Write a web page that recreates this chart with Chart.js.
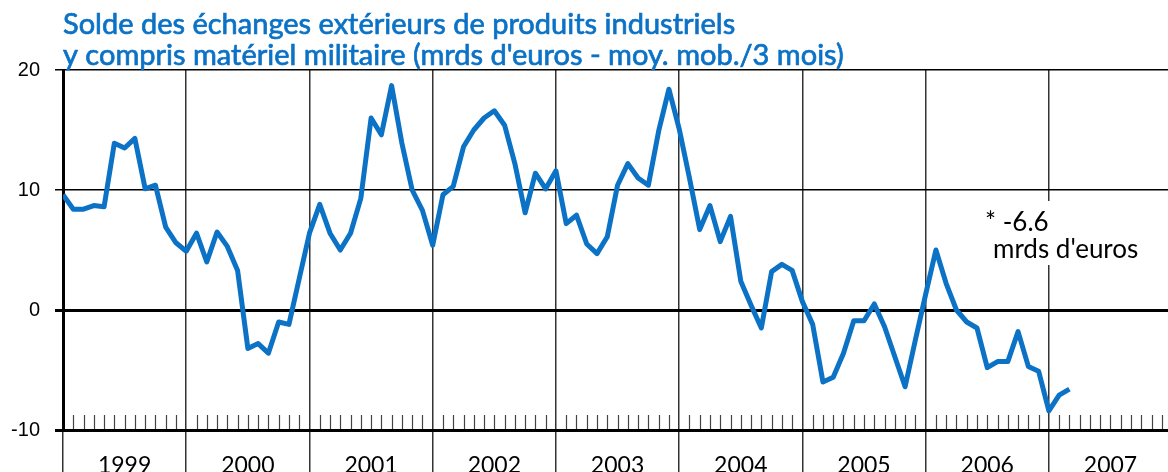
<!DOCTYPE html>
<html>
<head>
<meta charset="utf-8">
<script src="https://cdn.jsdelivr.net/npm/chart.js@4.4.1/dist/chart.umd.min.js"></script>
<style>
  html, body { margin: 0; background: #fff; }
  #wrap { width: 1168px; height: 472px; }
</style>
</head>
<body>
<div id="wrap"><canvas id="balanceChart"></canvas></div>
<script>
// monthly values, 3-month moving average, bn euros
const years = ['1999', '2000', '2001', '2002', '2003', '2004', '2005', '2006', '2007'];
const s1999 = [9.6, 8.4, 8.4, 8.7, 8.6, 13.9, 13.5, 14.3, 10.1, 10.4, 6.9, 5.6];
const s2000 = [4.9, 6.4, 4.0, 6.5, 5.3, 3.3, -3.2, -2.8, -3.6, -1.0, -1.2, 2.6];
const s2001 = [6.4, 8.8, 6.4, 5.0, 6.4, 9.3, 16.0, 14.6, 18.7, 13.9, 10.0, 8.3];
const s2002 = [5.4, 9.6, 10.3, 13.6, 15.0, 16.0, 16.6, 15.4, 12.2, 8.1, 11.4, 10.1];
const s2003 = [11.6, 7.2, 7.9, 5.5, 4.7, 6.1, 10.4, 12.2, 11.0, 10.4, 14.9, 18.4];
const s2004 = [15.1, 11.0, 6.7, 8.7, 5.7, 7.8, 2.4, 0.4, -1.5, 3.2, 3.8, 3.3];
const s2005 = [0.7, -1.2, -6.0, -5.6, -3.6, -0.9, -0.9, 0.5, -1.4, -3.9, -6.4, -2.5];
const s2006 = [1.3, 5.0, 2.2, 0.0, -1.0, -1.5, -4.8, -4.3, -4.3, -1.8, -4.7, -5.1];
const s2007 = [-8.4, -7.1, -6.6];
const balance = [].concat(s1999, s2000, s2001, s2002, s2003, s2004, s2005, s2006, s2007);

const yTicks = [-10, 0, 10, 20];
const titleLines = [
    'Solde des échanges extérieurs de produits industriels',
    "y compris matériel militaire (mrds d'euros - moy. mob./3 mois)"
];
const noteLines = ['* -6.6', "mrds d'euros"];

const blue = '#0b72c6';

const extras = {
    id: 'extras',
    beforeDatasetsDraw(chart) {
        const ctx = chart.ctx;
        const x = chart.scales.x;
        const area = chart.chartArea;
        // small month ticks along the bottom
        ctx.save();
        ctx.strokeStyle = '#444';
        ctx.lineWidth = 1.2;
        for (let m = 1; m < years.length * 12; m++) {
            if (m % 12 === 0) continue;
            const px = Math.round(x.getPixelForValue(m)) + 0.5;
            if (px > area.right) break;
            ctx.beginPath();
            ctx.moveTo(px, area.bottom - 15);
            ctx.lineTo(px, area.bottom - 1);
            ctx.stroke();
        }
        ctx.restore();
    },
    afterDraw(chart) {
        const ctx = chart.ctx;
        const x = chart.scales.x;
        ctx.save();
        // title (slight stroke to get a medium weight)
        ctx.fillStyle = blue;
        ctx.strokeStyle = blue;
        ctx.lineWidth = 0.7;
        ctx.font = '29px Lato';
        ctx.textBaseline = 'alphabetic';
        titleLines.forEach((t, i) => {
            ctx.fillText(t, 63, 34 + i * 31);
            ctx.strokeText(t, 63, 34 + i * 31);
        });

        // year labels between the year lines
        ctx.fillStyle = '#000';
        ctx.font = '23px Lato';
        ctx.textAlign = 'center';
        years.forEach((y, i) => {
            ctx.fillText(y, x.getPixelForValue(i * 12 + 6), 473);
        });

        // note on last value
        ctx.fillStyle = '#fff';
        ctx.fillRect(983, 201, 162, 64);
        ctx.fillStyle = '#000';
        ctx.textAlign = 'left';
        ctx.font = '26px Lato';
        ctx.fillText(noteLines[0], 985, 231);
        ctx.fillText(noteLines[1], 993, 258);
        ctx.restore();
    }
};

new Chart(document.getElementById('balanceChart'), {
    type: 'line',
    data: {
        datasets: [{
            data: balance.map((v, i) => ({ x: i, y: v })),
            borderColor: blue,
            borderWidth: 5,
            borderJoinStyle: 'round',
            pointRadius: 0,
            tension: 0,
            fill: false
        }]
    },
    plugins: [extras],
    options: {
        responsive: true,
        maintainAspectRatio: false,
        animation: false,
        layout: {
            padding: { top: 70, left: 0, right: 0, bottom: 0 }
        },
        plugins: {
            legend: { display: false },
            tooltip: { enabled: false }
        },
        scales: {
            x: {
                type: 'linear',
                min: 0,
                max: 107.6,
                afterBuildTicks: (scale) => {
                    scale.ticks = years.map((y, i) => ({ value: i * 12 }));
                },
                afterFit: (scale) => { scale.height = 42; },
                ticks: { display: false },
                grid: {
                    color: '#333',
                    lineWidth: 1.5,
                    drawTicks: true,
                    tickLength: 42
                },
                border: { display: false }
            },
            y: {
                min: -10,
                max: 20,
                afterBuildTicks: (scale) => {
                    scale.ticks = yTicks.map(v => ({ value: v }));
                },
                afterFit: (scale) => { scale.width = 63; },
                ticks: {
                    color: '#000',
                    padding: 15,
                    font: { family: 'Liberation Sans', size: 20 }
                },
                grid: {
                    color: '#000',
                    lineWidth: (c) => (c.tick && (c.tick.value === 0 || c.tick.value === -10)) ? 3 : 1.5,
                    tickLength: 8
                },
                border: { display: true, color: '#000', width: 3 }
            }
        }
    }
});
</script>
</body>
</html>
